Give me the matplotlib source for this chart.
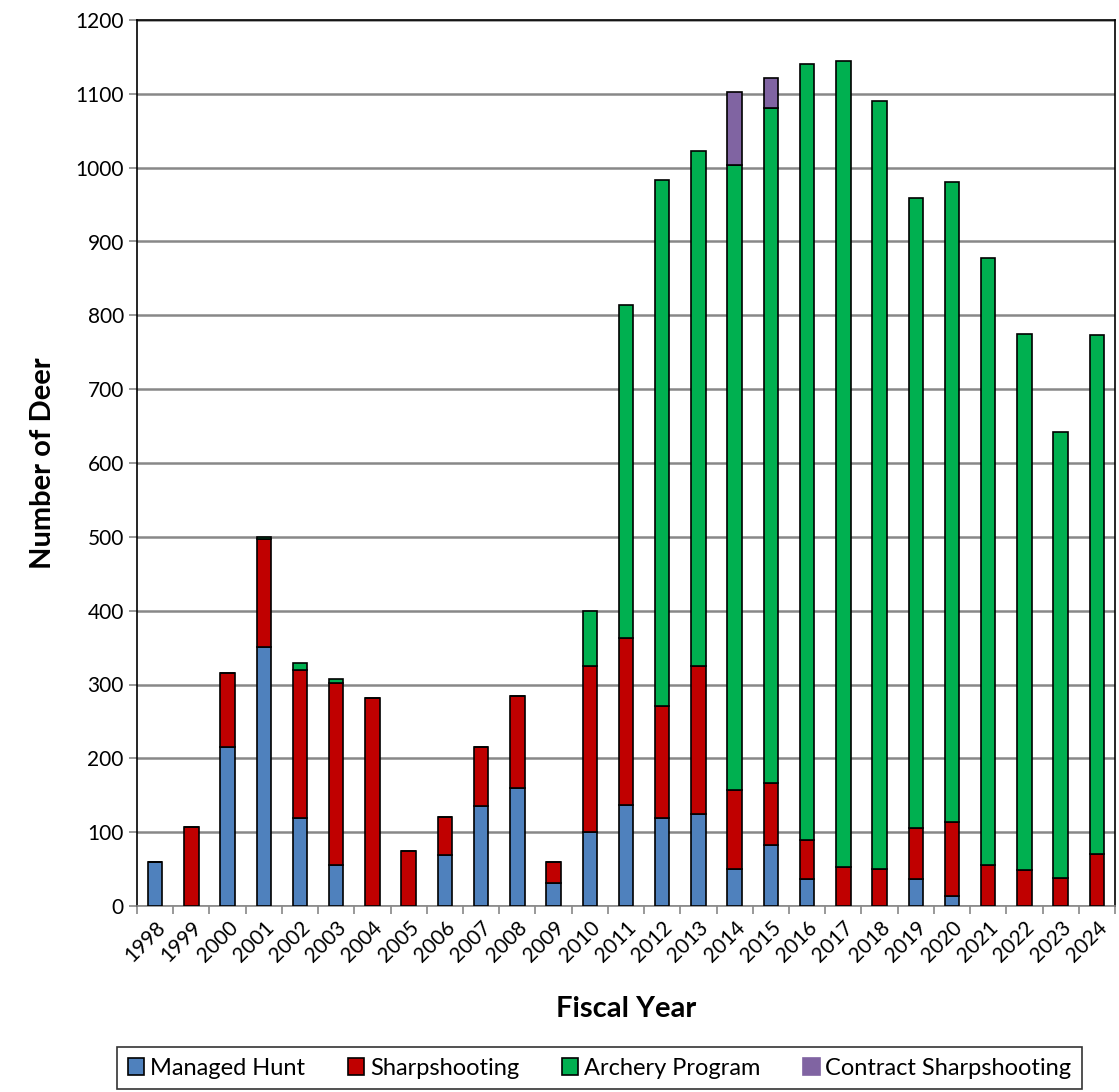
import matplotlib
matplotlib.use("Agg")
import matplotlib.pyplot as plt
import numpy as np
from matplotlib.patches import Patch

years = [str(y) for y in range(1998, 2025)]
managed_hunt = [60, 0, 215, 351, 119, 55, 0, 0, 69, 135, 160, 31, 100, 137,
                119, 124, 50, 82, 36, 0, 0, 36, 13, 0, 0, 0, 0]
sharpshooting = [0, 107, 100, 146, 201, 247, 282, 75, 52, 80, 125, 29, 225, 226,
                 152, 201, 107, 84, 54, 53, 50, 70, 101, 56, 49, 38, 70]
archery = [0, 0, 0, 3, 9, 5, 0, 0, 0, 0, 0, 0, 75, 451,
           712, 697, 847, 915, 1051, 1091, 1040, 853, 867, 822, 726, 604, 703]
contract = [0, 0, 0, 0, 0, 0, 0, 0, 0, 0, 0, 0, 0, 0,
            0, 0, 98, 40, 0, 0, 0, 0, 0, 0, 0, 0, 0]

series = ["Managed Hunt", "Sharpshooting", "Archery Program", "Contract Sharpshooting"]
colors = ["#4F81BD", "#C00000", "#00B050", "#8064A2"]

plt.rcParams['font.family'] = ['Lato', 'DejaVu Sans']

fig = plt.figure(figsize=(11.19, 10.92), dpi=100)
ax = fig.add_axes([137/1119, 1 - 906/1092, (1115 - 137)/1119, (906 - 20)/1092])

x = np.arange(len(years))
bottom = np.zeros(len(years))
for vals, col in zip([managed_hunt, sharpshooting, archery], colors[:3]):
    vals = np.array(vals, dtype=float)
    ax.bar(x, vals, 0.4, bottom=bottom, color=col, edgecolor='black', linewidth=1.2, zorder=3)
    bottom += vals
c = np.array(contract, dtype=float)
mask = c > 0
ax.bar(x[mask], c[mask], 0.4, bottom=bottom[mask], color=colors[3], edgecolor='black', linewidth=1.2, zorder=3)

ax.set_xlim(-0.5, len(years) - 0.5)
ax.set_ylim(0, 1200)
ax.set_yticks(range(0, 1201, 100))
ax.yaxis.grid(True, color='#888888', linewidth=1.8, zorder=0)
ax.set_axisbelow(True)
for s in ax.spines.values():
    s.set_color('black')
    s.set_linewidth(1.2)
ax.spines['bottom'].set_color('#888888')

ax.set_xticks(x)
ax.set_xticklabels(years, rotation=45, ha='right', rotation_mode='anchor', fontsize=15)
ax.tick_params(axis='x', length=0, pad=8)
ax.set_xticks(np.arange(-0.5, len(years)), minor=True)
ax.tick_params(axis='x', which='minor', length=6, color='#888888', width=1.2)
ax.tick_params(axis='y', labelsize=15, length=6, color='#888888', width=1.2)

ax.set_xlabel("Fiscal Year", fontsize=21, fontweight='bold', labelpad=22)
ax.set_ylabel("Number of Deer", fontsize=21, fontweight='bold', labelpad=14)

handles = [Patch(facecolor=col, edgecolor='black' if i < 3 else col, linewidth=1.2)
           for i, col in enumerate(colors)]
leg = fig.legend(handles, series, loc='upper left', ncol=4,
                 bbox_to_anchor=(117/1119, 1 - 1047/1092), fontsize=17,
                 frameon=True, fancybox=False, handlelength=0.7, handleheight=0.7,
                 handletextpad=0.25, columnspacing=1.8, borderpad=0.45, borderaxespad=0)
leg.get_frame().set_edgecolor('black')
leg.get_frame().set_linewidth(1.2)

fig.savefig("out.png", dpi=100)
